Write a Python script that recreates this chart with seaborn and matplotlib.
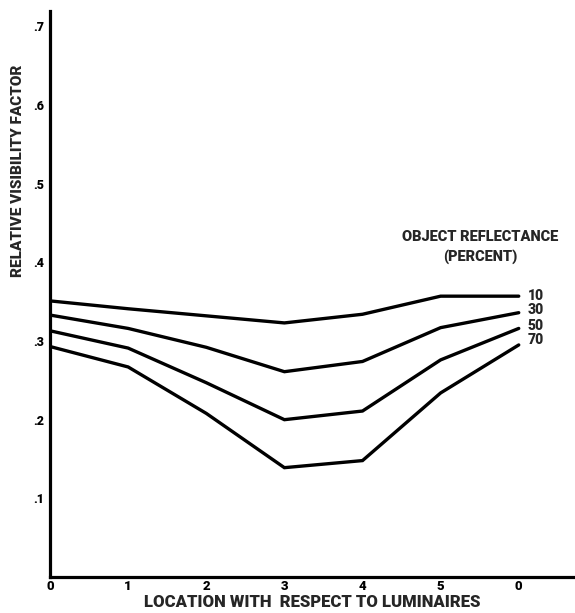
import matplotlib
matplotlib.use("Agg")
import matplotlib.pyplot as plt
import seaborn as sns
import pandas as pd

# Location positions along the row of luminaires and their tick labels
locations = [0, 1, 2, 3, 4, 5, 6]
location_labels = ["0", "1", "2", "3", "4", "5", "0"]

# Relative visibility factor for each object reflectance (percent)
reflectances = ["10", "30", "50", "70"]
rvf_10 = [0.351, 0.341, 0.332, 0.323, 0.334, 0.357, 0.357]
rvf_30 = [0.333, 0.316, 0.292, 0.261, 0.274, 0.317, 0.336]
rvf_50 = [0.313, 0.291, 0.247, 0.200, 0.211, 0.276, 0.316]
rvf_70 = [0.293, 0.267, 0.208, 0.139, 0.148, 0.234, 0.295]
series = [rvf_10, rvf_30, rvf_50, rvf_70]

y_ticks = [0.1, 0.2, 0.3, 0.4, 0.5, 0.6, 0.7]
y_tick_labels = [".1", ".2", ".3", ".4", ".5", ".6", ".7"]

rows = []
for name, vals in zip(reflectances, series):
    for x, v in zip(locations, vals):
        rows.append({"location": x, "rvf": v, "reflectance": name})
df = pd.DataFrame(rows)

sns.set_style("white")
plt.rcParams["font.family"] = ["Roboto", "DejaVu Sans"]
W = "black"

fig = plt.figure(figsize=(5.75, 6.13), dpi=100)
ax = fig.add_axes([0.087, 0.0587, 0.913, 0.924])

sns.lineplot(data=df, x="location", y="rvf", hue="reflectance",
             palette=["black"] * 4, linewidth=2.4, legend=False, ax=ax,
             solid_joinstyle="miter")

ax.set_xlim(0, 6.72)
ax.set_ylim(0, 0.72)
ax.set_xticks(locations)
ax.set_xticklabels(location_labels, fontsize=9.5, fontweight=W)
ax.set_yticks(y_ticks)
ax.set_yticklabels(y_tick_labels, fontsize=9, fontweight=W)
ax.tick_params(axis="both", direction="in", length=5, width=1.6,
               color="black", labelcolor="black")
ax.tick_params(axis="x", pad=2)
ax.tick_params(axis="y", pad=4)

for side in ["top", "right"]:
    ax.spines[side].set_visible(False)
for side in ["left", "bottom"]:
    ax.spines[side].set_linewidth(2.3)
    ax.spines[side].set_color("black")

ax.set_xlabel("LOCATION WITH  RESPECT TO LUMINAIRES", fontsize=12,
              fontweight=W, labelpad=1)
ax.set_ylabel("RELATIVE VISIBILITY FACTOR", fontsize=11, fontweight=W)
ax.yaxis.set_label_coords(-0.047, 0.718)

# Series labels at the right-hand ends of the curves
label_offsets = [0.3, 2.0, 2.0, 3.6]
for name, vals, dy in zip(reflectances, series, label_offsets):
    ax.annotate(name, xy=(locations[-1], vals[-1]), xytext=(6.5, dy),
                textcoords="offset points", va="center", ha="left",
                fontsize=10, fontweight=W, annotation_clip=False)

ax.text(5.51, 0.432, "OBJECT REFLECTANCE", ha="center", va="center",
        fontsize=10.5, fontweight=W)
ax.text(5.51, 0.408, "(PERCENT)", ha="center", va="center",
        fontsize=10.5, fontweight=W)

fig.savefig("out.png", dpi=100)
